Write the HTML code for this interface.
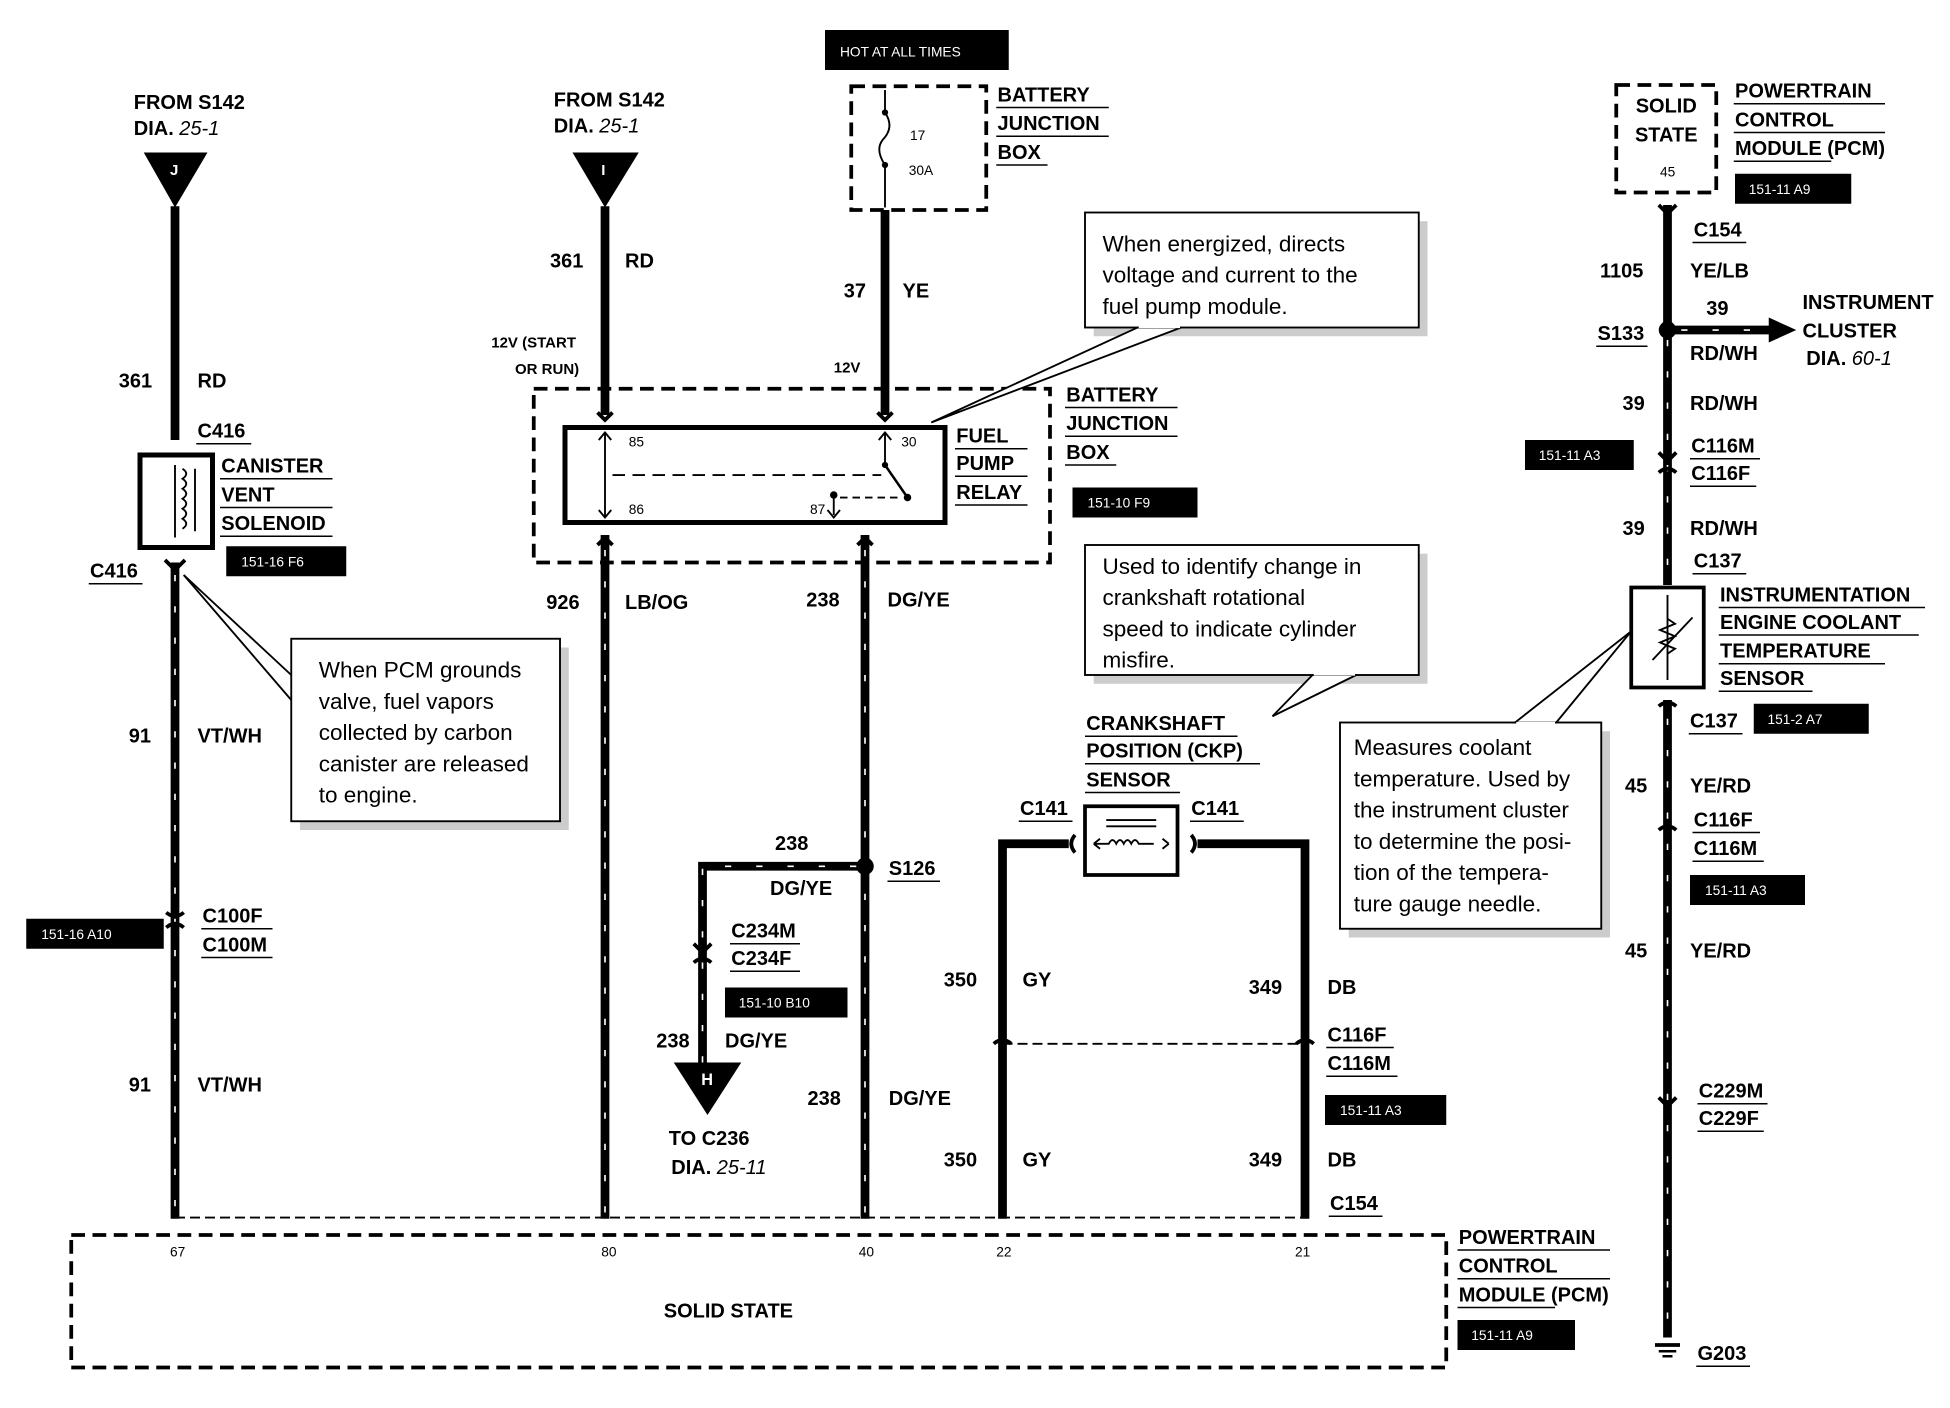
<!DOCTYPE html>
<html><head><meta charset="utf-8"><style>
html,body{margin:0;padding:0;background:#fff}
svg{display:block}
text{font-family:"Liberation Sans",Arial,sans-serif;fill:#000}
.b{font-weight:bold;font-size:16px}
.s{font-size:11px}
.c{font-size:18px}
.t{font-size:11px;fill:#fff}
.w{stroke:#000;stroke-width:7;fill:none}
.st{stroke:#fff;stroke-width:1.3;stroke-dasharray:5 20;fill:none}
.d{stroke:#000;stroke-width:3;stroke-dasharray:11 6;fill:none}
.u{stroke:#000;stroke-width:1.2}
</style></head><body>
<svg width="1950" height="1408" viewBox="0 0 1560 1126.4" preserveAspectRatio="none" xmlns="http://www.w3.org/2000/svg">
<rect width="1560" height="1127" fill="#fff"/>

<!-- LEFT COLUMN -->
<text class="b" x="107" y="87">FROM S142</text>
<text class="b" x="107" y="108">DIA.<tspan font-style="italic" font-weight="normal"> 25-1</tspan></text>
<polygon points="115,122 166,122 140,166" fill="#000"/>
<text x="136" y="140" font-size="12" style="fill:#fff" font-weight="bold">J</text>
<line class="w" x1="140" y1="165" x2="140" y2="352"/>
<text class="b" x="95" y="310">361</text><text class="b" x="158" y="310">RD</text>
<text class="b" x="158" y="350">C416</text><line class="u" x1="157" y1="355" x2="201" y2="355"/>
<rect x="112" y="364" width="58" height="74" fill="none" stroke="#000" stroke-width="4"/>
<line x1="140" y1="372" x2="140" y2="430" stroke="#000" stroke-width="1.5"/>
<path d="M146 375 q6 4 0 8 q6 4 0 8 q6 4 0 8 q6 4 0 8 q6 4 0 8 q6 4 0 8" stroke="#000" fill="none" stroke-width="1.5"/>
<line x1="156" y1="375" x2="156" y2="425" stroke="#000" stroke-width="1.5"/>
<text class="b" x="177" y="378">CANISTER</text><line class="u" x1="176" y1="383" x2="266" y2="383"/>
<text class="b" x="177" y="401">VENT</text><line class="u" x1="176" y1="406" x2="266" y2="406"/>
<text class="b" x="177" y="424">SOLENOID</text><line class="u" x1="176" y1="429" x2="266" y2="429"/>
<rect x="181" y="437" width="96" height="24" fill="#000"/><text class="t" x="193" y="453">151-16 F6</text>
<text class="b" x="72" y="462">C416</text><line class="u" x1="71" y1="467" x2="114" y2="467"/>
<line class="w" x1="140" y1="450" x2="140" y2="975"/>
<line class="st" x1="140" y1="460" x2="140" y2="975"/>
<path d="M132 448 l8 8 l8 -8" stroke="#000" stroke-width="3" fill="none"/>
<text class="b" x="103" y="594">91</text><text class="b" x="158" y="594">VT/WH</text>
<rect x="240" y="518" width="215" height="146" fill="#ccc"/>
<rect x="233" y="511" width="215" height="146" fill="#fff" stroke="#000" stroke-width="1.5"/>
<line x1="147" y1="460" x2="233" y2="540" stroke="#000" stroke-width="1.5"/>
<line x1="147" y1="460" x2="233" y2="560" stroke="#000" stroke-width="1.5"/>
<text class="c" x="255" y="542">When PCM grounds</text>
<text class="c" x="255" y="567">valve, fuel vapors</text>
<text class="c" x="255" y="592">collected by carbon</text>
<text class="c" x="255" y="617">canister are released</text>
<text class="c" x="255" y="642">to engine.</text>
<rect x="21" y="735" width="110" height="24" fill="#000"/><text class="t" x="33" y="751">151-16 A10</text>
<path d="M133 730 q7 6 14 0 M133 742 q7 -6 14 0" stroke="#000" stroke-width="3" fill="none"/>
<text class="b" x="162" y="738">C100F</text><line class="u" x1="161" y1="743" x2="218" y2="743"/>
<text class="b" x="162" y="761">C100M</text><line class="u" x1="161" y1="766" x2="218" y2="766"/>
<text class="b" x="103" y="873">91</text><text class="b" x="158" y="873">VT/WH</text>

<!-- MIDDLE I -->
<text class="b" x="443" y="85">FROM S142</text>
<text class="b" x="443" y="106">DIA.<tspan font-style="italic" font-weight="normal"> 25-1</tspan></text>
<polygon points="458,122 511,122 484,166" fill="#000"/>
<text x="481" y="140" font-size="12" style="fill:#fff" font-weight="bold">I</text>
<line class="w" x1="484" y1="165" x2="484" y2="332"/>
<text class="b" x="440" y="214">361</text><text class="b" x="500" y="214">RD</text>
<text x="393" y="278" font-size="12" font-weight="bold">12V (START</text>
<text x="412" y="299" font-size="12" font-weight="bold">OR RUN)</text>
<rect x="427" y="311" width="413" height="139" class="d"/>
<rect x="452" y="342" width="304" height="76" fill="#fff" stroke="#000" stroke-width="4"/>
<path d="M478 330 l6 6 l6 -6 M478 436 l6 -6 l6 6 M702 330 l6 6 l6 -6 M686 436 l6 -6 l6 6" stroke="#000" stroke-width="3" fill="none"/>
<line x1="484" y1="346" x2="484" y2="414" stroke="#000" stroke-width="1.5"/>
<path d="M479 352 l5 -6 l5 6 M479 408 l5 6 l5 -6 M703 352 l5 -6 l5 6 M662 408 l5 6 l5 -6" stroke="#000" stroke-width="1.5" fill="none"/>
<line x1="490" y1="380" x2="705" y2="380" stroke="#000" stroke-width="1.5" stroke-dasharray="10 6"/>
<line x1="708" y1="346" x2="708" y2="372" stroke="#000" stroke-width="1.5"/>
<line x1="708" y1="372" x2="726" y2="398" stroke="#000" stroke-width="2"/>
<circle cx="708" cy="372" r="2.5"/><circle cx="726" cy="398" r="3"/>
<line x1="667" y1="396" x2="667" y2="412" stroke="#000" stroke-width="1.5"/><circle cx="667" cy="396" r="3"/>
<line x1="672" y1="398" x2="720" y2="398" stroke="#000" stroke-width="1.5" stroke-dasharray="6 4"/>
<text x="503" y="357" font-size="11">85</text><text x="503" y="411" font-size="11">86</text>
<text x="721" y="357" font-size="11">30</text><text x="648" y="411" font-size="11">87</text>
<text class="b" x="765" y="354">FUEL</text><line class="u" x1="764" y1="359" x2="822" y2="359"/>
<text class="b" x="765" y="376">PUMP</text><line class="u" x1="764" y1="381" x2="822" y2="381"/>
<text class="b" x="765" y="399">RELAY</text><line class="u" x1="764" y1="404" x2="822" y2="404"/>
<line class="w" x1="484" y1="428" x2="484" y2="975"/><line class="st" x1="484" y1="440" x2="484" y2="975"/>
<text class="b" x="437" y="487">926</text><text class="b" x="500" y="487">LB/OG</text>

<!-- FUSE -->
<rect x="660" y="24" width="147" height="32" fill="#000"/><text class="t" x="672" y="45">HOT AT ALL TIMES</text>
<rect x="681" y="69" width="108" height="99" class="d"/>
<line x1="708" y1="72" x2="708" y2="90" stroke="#000" stroke-width="1.5"/>
<path d="M708 90 q8 12 -2 22 q-6 8 2 20" stroke="#000" fill="none" stroke-width="1.5"/>
<line x1="708" y1="132" x2="708" y2="166" stroke="#000" stroke-width="1.5"/>
<circle cx="708" cy="90" r="2.5"/><circle cx="708" cy="132" r="2.5"/>
<text x="728" y="112" font-size="11">17</text><text x="727" y="140" font-size="11">30A</text>
<text class="b" x="798" y="81">BATTERY</text><line class="u" x1="797" y1="86" x2="887" y2="86"/>
<text class="b" x="798" y="104">JUNCTION</text><line class="u" x1="797" y1="109" x2="887" y2="109"/>
<text class="b" x="798" y="127">BOX</text><line class="u" x1="797" y1="132" x2="838" y2="132"/>
<line class="w" x1="708" y1="168" x2="708" y2="332"/>
<text class="b" x="675" y="238">37</text><text class="b" x="722" y="238">YE</text>
<text x="667" y="298" font-size="12" font-weight="bold">12V</text>
<line class="w" x1="692" y1="428" x2="692" y2="975"/><line class="st" x1="692" y1="440" x2="692" y2="975"/>
<text class="b" x="645" y="485">238</text><text class="b" x="710" y="485">DG/YE</text>
<circle cx="692" cy="693" r="7"/>
<polyline points="692,693 562,693 562,850" class="w"/>
<polyline points="685,693 562,693 562,850" class="st"/>
<text class="b" x="620" y="680">238</text><text class="b" x="616" y="716">DG/YE</text>
<text class="b" x="711" y="700">S126</text><line class="u" x1="710" y1="705" x2="752" y2="705"/>
<path d="M555 755 l7 7 l7 -7 M555 770 q7 -6 14 0" stroke="#000" stroke-width="3" fill="none"/>
<text class="b" x="585" y="750">C234M</text><line class="u" x1="584" y1="755" x2="640" y2="755"/>
<text class="b" x="585" y="772">C234F</text><line class="u" x1="584" y1="777" x2="640" y2="777"/>
<rect x="580" y="790" width="98" height="24" fill="#000"/><text class="t" x="591" y="806">151-10 B10</text>
<text class="b" x="525" y="838">238</text><text class="b" x="580" y="838">DG/YE</text>
<polygon points="539,850 593,850 566,892" fill="#000"/>
<text x="561" y="868" font-size="13" style="fill:#fff" font-weight="bold">H</text>
<text class="b" x="535" y="916">TO C236</text>
<text class="b" x="537" y="939">DIA.<tspan font-style="italic" font-weight="normal"> 25-11</tspan></text>
<text class="b" x="646" y="884">238</text><text class="b" x="711" y="884">DG/YE</text>

<text class="b" x="853" y="321">BATTERY</text><line class="u" x1="852" y1="326" x2="942" y2="326"/>
<text class="b" x="853" y="344">JUNCTION</text><line class="u" x1="852" y1="349" x2="942" y2="349"/>
<text class="b" x="853" y="367">BOX</text><line class="u" x1="852" y1="372" x2="893" y2="372"/>
<rect x="858" y="390" width="100" height="24" fill="#000"/><text class="t" x="870" y="406">151-10 F9</text>

<!-- callout 1 -->
<rect x="875" y="177" width="267" height="92" fill="#ccc"/>
<rect x="868" y="170" width="267" height="92" fill="#fff" stroke="#000" stroke-width="1.5"/>
<polygon points="745,338 910,262 945,262" fill="#fff" stroke="#000" stroke-width="1.5"/>
<line x1="911" y1="261" x2="944" y2="261" stroke="#fff" stroke-width="3"/>
<text class="c" x="882" y="201">When energized, directs</text>
<text class="c" x="882" y="226">voltage and current to the</text>
<text class="c" x="882" y="251">fuel pump module.</text>

<!-- callout 2 -->
<rect x="875" y="443" width="267" height="104" fill="#ccc"/>
<rect x="868" y="436" width="267" height="104" fill="#fff" stroke="#000" stroke-width="1.5"/>
<polygon points="1018,573 1050,540 1085,540" fill="#fff" stroke="#000" stroke-width="1.5"/>
<line x1="1051" y1="539" x2="1084" y2="539" stroke="#fff" stroke-width="3"/>
<text class="c" x="882" y="459">Used to identify change in</text>
<text class="c" x="882" y="484">crankshaft rotational</text>
<text class="c" x="882" y="509">speed to indicate cylinder</text>
<text class="c" x="882" y="534">misfire.</text>

<!-- CKP -->
<text class="b" x="869" y="584">CRANKSHAFT</text><line class="u" x1="868" y1="589" x2="990" y2="589"/>
<text class="b" x="869" y="606">POSITION (CKP)</text><line class="u" x1="868" y1="611" x2="1008" y2="611"/>
<text class="b" x="869" y="629">SENSOR</text><line class="u" x1="868" y1="634" x2="944" y2="634"/>
<rect x="868" y="645" width="74" height="55" fill="#fff" stroke="#000" stroke-width="3"/>
<line x1="885" y1="656" x2="925" y2="656" stroke="#000" stroke-width="1.5"/>
<line x1="885" y1="661" x2="925" y2="661" stroke="#000" stroke-width="1.5"/>
<path d="M875 675 l5 -4 M875 675 l5 4 M875 675 h12 q3 -6 6 0 q3 -6 6 0 q3 -6 6 0 q3 -6 6 0 h12 M935 675 l-5 -4 M935 675 l-5 4" stroke="#000" fill="none" stroke-width="1.5"/>
<text class="b" x="816" y="652">C141</text><line class="u" x1="815" y1="657" x2="858" y2="657"/>
<text class="b" x="953" y="652">C141</text><line class="u" x1="952" y1="657" x2="995" y2="657"/>
<polyline points="855,675 802,675 802,975" class="w"/>
<polyline points="958,675 1044,675 1044,975" class="w"/>
<path d="M860 668 q-6 7 0 14 M953 668 q6 7 0 14" stroke="#000" stroke-width="3" fill="none"/>
<text class="b" x="755" y="789">350</text><text class="b" x="818" y="789">GY</text>
<text class="b" x="999" y="795">349</text><text class="b" x="1062" y="795">DB</text>
<line x1="802" y1="835" x2="1044" y2="835" stroke="#000" stroke-width="1.5" stroke-dasharray="8 4"/>
<path d="M795 835 q7 -6 14 0 M1037 835 q7 -6 14 0" stroke="#000" stroke-width="3" fill="none"/>
<text class="b" x="1062" y="833">C116F</text><line class="u" x1="1061" y1="838" x2="1115" y2="838"/>
<text class="b" x="1062" y="856">C116M</text><line class="u" x1="1061" y1="861" x2="1118" y2="861"/>
<rect x="1060" y="876" width="97" height="24" fill="#000"/><text class="t" x="1072" y="892">151-11 A3</text>
<text class="b" x="755" y="933">350</text><text class="b" x="818" y="933">GY</text>
<text class="b" x="999" y="933">349</text><text class="b" x="1062" y="933">DB</text>
<text class="b" x="1064" y="968">C154</text><line class="u" x1="1063" y1="973" x2="1106" y2="973"/>

<!-- PCM -->
<line x1="140" y1="974" x2="1044" y2="974" stroke="#000" stroke-width="1.5" stroke-dasharray="8 4"/>
<rect x="57" y="988" width="1100" height="106" class="d"/>
<text x="136" y="1005" font-size="11">67</text><text x="481" y="1005" font-size="11">80</text>
<text x="687" y="1005" font-size="11">40</text><text x="797" y="1005" font-size="11">22</text>
<text x="1036" y="1005" font-size="11">21</text>
<text class="b" x="531" y="1054">SOLID STATE</text>
<text class="b" x="1167" y="995">POWERTRAIN</text><line class="u" x1="1166" y1="1000" x2="1288" y2="1000"/>
<text class="b" x="1167" y="1018">CONTROL</text><line class="u" x1="1166" y1="1023" x2="1288" y2="1023"/>
<text class="b" x="1167" y="1041">MODULE (PCM)</text><line class="u" x1="1166" y1="1046" x2="1244" y2="1046"/>
<rect x="1166" y="1056" width="94" height="24" fill="#000"/><text class="t" x="1177" y="1072">151-11 A9</text>

<!-- RIGHT -->
<rect x="1293" y="68" width="80" height="86" class="d"/>
<text class="b" x="1333" y="90" text-anchor="middle">SOLID</text>
<text class="b" x="1333" y="113" text-anchor="middle">STATE</text>
<text x="1328" y="141" font-size="11">45</text>
<text class="b" x="1388" y="78">POWERTRAIN</text><line class="u" x1="1387" y1="83" x2="1508" y2="83"/>
<text class="b" x="1388" y="101">CONTROL</text><line class="u" x1="1387" y1="106" x2="1508" y2="106"/>
<text class="b" x="1388" y="124">MODULE (PCM)</text><line class="u" x1="1387" y1="129" x2="1465" y2="129"/>
<rect x="1388" y="139" width="93" height="24" fill="#000"/><text class="t" x="1399" y="155">151-11 A9</text>
<line class="w" x1="1334" y1="164" x2="1334" y2="468"/>
<line class="st" x1="1334" y1="272" x2="1334" y2="468"/>
<path d="M1327 164 l7 7 l7 -7" stroke="#000" stroke-width="3" fill="none"/>
<text class="b" x="1355" y="189">C154</text><line class="u" x1="1354" y1="194" x2="1397" y2="194"/>
<text class="b" x="1280" y="222">1105</text><text class="b" x="1352" y="222">YE/LB</text>
<circle cx="1334" cy="264" r="7"/>
<line class="w" x1="1340" y1="264" x2="1420" y2="264"/>
<line class="st" x1="1345" y1="264" x2="1420" y2="264"/>
<polygon points="1415,254 1437,264 1415,274" fill="#000"/>
<text class="b" x="1278" y="272">S133</text><line class="u" x1="1277" y1="277" x2="1318" y2="277"/>
<text class="b" x="1365" y="252">39</text><text class="b" x="1352" y="288">RD/WH</text>
<text class="b" x="1442" y="247">INSTRUMENT</text>
<text class="b" x="1442" y="270">CLUSTER</text>
<text class="b" x="1445" y="292">DIA.<tspan font-style="italic" font-weight="normal"> 60-1</tspan></text>
<text class="b" x="1298" y="328">39</text><text class="b" x="1352" y="328">RD/WH</text>
<rect x="1220" y="352" width="87" height="24" fill="#000"/><text class="t" x="1231" y="368">151-11 A3</text>
<path d="M1327 362 l7 7 l7 -7 M1327 378 q7 -6 14 0" stroke="#000" stroke-width="3" fill="none"/>
<text class="b" x="1353" y="362">C116M</text><line class="u" x1="1352" y1="367" x2="1408" y2="367"/>
<text class="b" x="1353" y="384">C116F</text><line class="u" x1="1352" y1="389" x2="1405" y2="389"/>
<text class="b" x="1298" y="428">39</text><text class="b" x="1352" y="428">RD/WH</text>
<text class="b" x="1355" y="454">C137</text><line class="u" x1="1354" y1="459" x2="1397" y2="459"/>
<rect x="1305" y="470" width="58" height="80" fill="#fff" stroke="#000" stroke-width="3"/>
<line x1="1334" y1="476" x2="1334" y2="544" stroke="#000" stroke-width="1.5"/>
<path d="M1334 495 l6 4 l-12 5 l12 5 l-12 5 l12 5 l-6 4" stroke="#000" fill="none" stroke-width="1.5"/>
<line x1="1322" y1="528" x2="1354" y2="494" stroke="#000" stroke-width="1.5"/>
<text class="b" x="1376" y="481">INSTRUMENTATION</text><line class="u" x1="1375" y1="486" x2="1540" y2="486"/>
<text class="b" x="1376" y="503">ENGINE COOLANT</text><line class="u" x1="1375" y1="508" x2="1535" y2="508"/>
<text class="b" x="1376" y="526">TEMPERATURE</text><line class="u" x1="1375" y1="531" x2="1508" y2="531"/>
<text class="b" x="1376" y="548">SENSOR</text><line class="u" x1="1375" y1="553" x2="1450" y2="553"/>
<line class="w" x1="1334" y1="560" x2="1334" y2="1070"/>
<line class="st" x1="1334" y1="575" x2="1334" y2="1060"/>
<path d="M1327 565 q7 -6 14 0" stroke="#000" stroke-width="3" fill="none"/>
<text class="b" x="1352" y="582">C137</text><line class="u" x1="1351" y1="587" x2="1394" y2="587"/>
<rect x="1403" y="563" width="92" height="24" fill="#000"/><text class="t" x="1414" y="579">151-2 A7</text>
<text class="b" x="1300" y="634">45</text><text class="b" x="1352" y="634">YE/RD</text>
<path d="M1327 664 q7 -6 14 0" stroke="#000" stroke-width="3" fill="none"/>
<text class="b" x="1355" y="661">C116F</text><line class="u" x1="1354" y1="666" x2="1408" y2="666"/>
<text class="b" x="1355" y="684">C116M</text><line class="u" x1="1354" y1="689" x2="1411" y2="689"/>
<rect x="1352" y="700" width="92" height="24" fill="#000"/><text class="t" x="1364" y="716">151-11 A3</text>
<text class="b" x="1300" y="766">45</text><text class="b" x="1352" y="766">YE/RD</text>
<path d="M1327 878 l7 7 l7 -7" stroke="#000" stroke-width="3" fill="none"/>
<text class="b" x="1359" y="878">C229M</text><line class="u" x1="1358" y1="883" x2="1414" y2="883"/>
<text class="b" x="1359" y="900">C229F</text><line class="u" x1="1358" y1="905" x2="1411" y2="905"/>
<line x1="1324" y1="1076" x2="1344" y2="1076" stroke="#000" stroke-width="3"/>
<line x1="1327" y1="1081" x2="1341" y2="1081" stroke="#000" stroke-width="2"/>
<line x1="1330" y1="1085" x2="1338" y2="1085" stroke="#000" stroke-width="2"/>
<text class="b" x="1358" y="1088">G203</text><line class="u" x1="1357" y1="1093" x2="1400" y2="1093"/>

<!-- callout 3 -->
<rect x="1079" y="585" width="209" height="165" fill="#ccc"/>
<rect x="1072" y="578" width="209" height="165" fill="#fff" stroke="#000" stroke-width="1.5"/>
<polygon points="1305,505 1212,578 1245,578" fill="#fff" stroke="#000" stroke-width="1.5"/>
<line x1="1213" y1="579" x2="1244" y2="579" stroke="#fff" stroke-width="3"/>
<text class="c" x="1083" y="604">Measures coolant</text>
<text class="c" x="1083" y="629">temperature. Used by</text>
<text class="c" x="1083" y="654">the instrument cluster</text>
<text class="c" x="1083" y="679">to determine the posi-</text>
<text class="c" x="1083" y="704">tion of the tempera-</text>
<text class="c" x="1083" y="729">ture gauge needle.</text>
</svg>
</body></html>
